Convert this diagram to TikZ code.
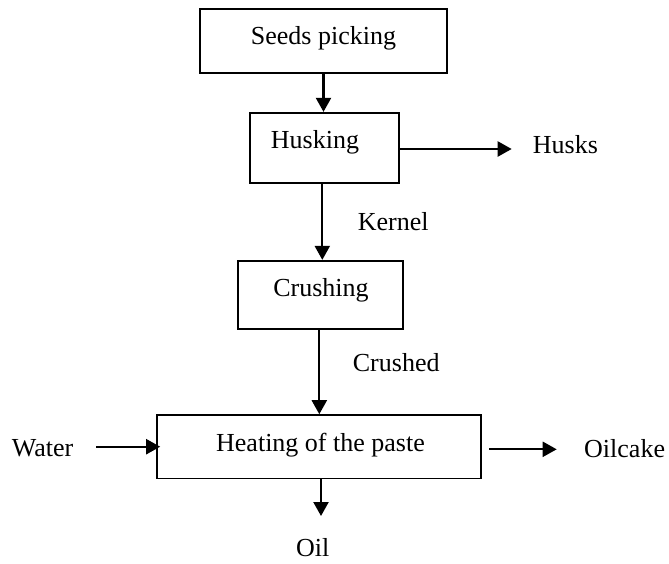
\documentclass[tikz,border=0pt]{standalone}
\usepackage{fontspec}
\setmainfont{Liberation Serif}
\usetikzlibrary{arrows.meta}
\begin{document}
\begin{tikzpicture}[x=1pt,y=-1pt,
  procbox/.style={draw=black,line width=1.7pt,minimum width=#1,inner sep=0pt},
  txt/.style={anchor=base,inner sep=0pt,font=\fontsize{26}{30}\selectfont},
  flow/.style={line width=2.2pt,-{Triangle[length=14pt,width=15pt]}}]
\useasboundingbox (0,0) rectangle (669,563);

% process boxes
\node[procbox=247pt,minimum height=63.5pt] (seeds) at (323.5,41) {};
\node[procbox=149pt,minimum height=70pt] (husk) at (324.5,147.7) {};
\node[procbox=165pt,minimum height=68pt] (crush) at (320.5,294.7) {};
\node[procbox=324pt,minimum height=63.3pt] (heat) at (319,446.7) {};

% box captions
\node[txt] (tseeds) at (323.5,44.3) {Seeds picking};
\node[txt] (thusk) at (315,148) {Husking};
\node[txt] (tcrush) at (321,296.7) {Crushing};
\node[txt] (theat) at (320.5,451) {Heating of the paste};

% stream labels
\node[txt,anchor=base west] (husks) at (532.7,153.3) {Husks};
\node[txt,anchor=base west] (kernel) at (357.7,230) {Kernel};
\node[txt,anchor=base west] (crushed) at (352.7,371.7) {Crushed};
\node[txt,anchor=base west] (water) at (11.7,456) {Water};
\node[txt,anchor=base west] (oilcake) at (584,457) {Oilcake};
\node[txt] (oil) at (312.7,556) {Oil};

% free ends of the side streams
\coordinate (huskend) at (511.7,149);
\coordinate (waterstart) at (96,446.7);
\coordinate (cakestart) at (489.3,449.3);
\coordinate (cakeend) at (556.7,449.3);
\coordinate (oilend) at (321,516);

% connectors
\draw[flow] (seeds.south) -- (seeds.south |- husk.north);
\draw[flow] (husk.east |- huskend) -- (huskend);
\draw[flow] ([xshift=-2.2pt]husk.south) -- ([xshift=-2.2pt]husk.south |- crush.north);
\draw[flow] ([xshift=-1.2pt]crush.south) -- ([xshift=-1.2pt]crush.south |- heat.north);
\draw[flow] (waterstart) -- ([xshift=4pt]heat.west);
\draw[flow] (cakestart) -- (cakeend);
\draw[flow] (oilend |- heat.south) -- (oilend);
\end{tikzpicture}
\end{document}
